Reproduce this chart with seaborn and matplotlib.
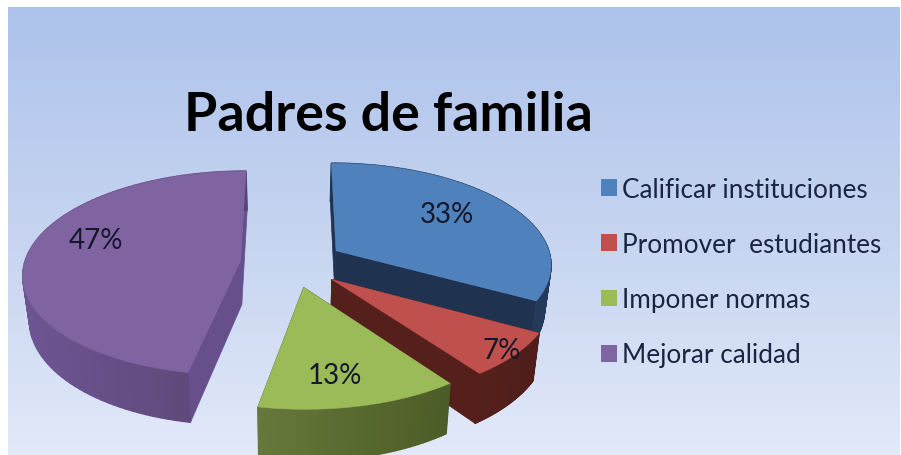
import numpy as np
import matplotlib
matplotlib.use("Agg")
import matplotlib.pyplot as plt
from matplotlib.colors import LinearSegmentedColormap, to_rgb
from matplotlib.patches import Patch
import seaborn as sns

titulo = "Padres de familia"
categorias = ["Calificar instituciones", "Promover  estudiantes", "Imponer normas", "Mejorar calidad"]
porcentajes = [33, 7, 13, 47]

colores = ["#4f81bd", "#c0504d", "#9bbb59", "#8064a2"]
pared_a = ["#1f3350", "#55201c", "#66783a", "#6d5594"]   # side wall, one end
pared_b = ["#233a5a", "#4f1e1a", "#4c5c26", "#5a4570"]   # side wall, other end
pared_radial = ["#1f3350", "#55201c", "#4f5e28", "#664f8a"]

sns.set_theme(style="white")
plt.rcParams["font.family"] = ["Lato", "DejaVu Sans"]

# fake 3d projection of the pie plane to pixels
CX, CY, RX, RY = 292, 264, 216, 101
PERSP = 0.12
ALTO = 44
ENCOGE = 0.975


def proyecta(x, y, abajo=False):
    s = 1 / (1 + PERSP * np.asarray(y))
    m = ENCOGE if abajo else 1.0
    px = CX + RX * np.asarray(x) * s * m
    py = CY - RY * np.asarray(y) * s + (ALTO * s if abajo else 0)
    return px, py


fig = plt.figure(figsize=(9.01, 4.56), dpi=100, facecolor="white")
ax = fig.add_axes([0, 0, 1, 1])

wedges, _ = ax.pie(porcentajes, startangle=90, counterclock=False,
                   explode=[0.24] * len(porcentajes), radius=1)
geom = [(w.theta1, w.theta2, w.center) for w in wedges]
for w in wedges:
    w.remove()

ax.set_aspect("auto")
ax.set_xlim(0, 901)
ax.set_ylim(456, 0)
ax.axis("off")

# background gradient panel
fondo = LinearSegmentedColormap.from_list("fondo", ["#adc3ec", "#c6d4f0", "#e2e9f9"])
ax.imshow(np.linspace(0, 1, 256).reshape(-1, 1), cmap=fondo, aspect="auto",
          extent=[8, 900, 456, 8], zorder=0)
ax.set_xlim(0, 901)
ax.set_ylim(456, 0)

# back to front
orden = [0, 3, 1, 2]
for capa, i in enumerate(orden):
    t1, t2, (ox, oy) = geom[i]
    z = 2 + capa
    ang = np.radians(np.linspace(t1, t2, 90))
    xs = ox + np.cos(ang)
    ys = oy + np.sin(ang)

    # radial walls
    for xb, yb in [(xs[0], ys[0]), (xs[-1], ys[-1])]:
        tx, ty = proyecta(np.array([ox, xb]), np.array([oy, yb]))
        bx, by = proyecta(np.array([xb, ox]), np.array([yb, oy]), abajo=True)
        ax.fill(np.r_[tx, bx], np.r_[ty, by], color=pared_radial[i], lw=0.5, zorder=z)

    # outer wall, shaded piece by piece
    tx, ty = proyecta(xs, ys)
    bx, by = proyecta(xs, ys, abajo=True)
    ca, cb = np.array(to_rgb(pared_a[i])), np.array(to_rgb(pared_b[i]))
    orden_x = (tx - tx.min()) / max(tx.max() - tx.min(), 1)
    for k in range(len(xs) - 1):
        c = ca + (cb - ca) * orden_x[k]
        ax.fill([tx[k], tx[k + 1], bx[k + 1], bx[k]],
                [ty[k], ty[k + 1], by[k + 1], by[k]],
                color=c, lw=1, zorder=z)

    # top face
    ax0, ay0 = proyecta(np.array([ox]), np.array([oy]))
    ax.fill(np.r_[ax0, tx], np.r_[ay0, ty], color=colores[i], lw=0.3, zorder=z + 0.5)

# percent labels
pos_etiquetas = [(447, 215), (502, 351), (335, 376), (96, 241)]
for v, (x, y) in zip(porcentajes, pos_etiquetas):
    ax.text(x, y, f"{v}%", ha="center", va="center", fontsize=20, color="#14182a", zorder=20)

ax.text(388, 116, titulo, ha="center", va="center", fontsize=38.7, fontweight="bold",
        color="black", zorder=20)

handles = [Patch(facecolor=c, edgecolor="none") for c in colores]
ley = ax.legend(handles, categorias, loc="center left", bbox_to_anchor=(601 / 901, 1 - 273 / 456),
                frameon=False, fontsize=18.8, labelspacing=1.16, handlelength=0.6,
                handleheight=0.6, handletextpad=0.2, borderpad=0, borderaxespad=0)
ley.set_zorder(20)
for t in ley.get_texts():
    t.set_color("#1b2440")

fig.savefig("out.png", dpi=100, facecolor="white")
